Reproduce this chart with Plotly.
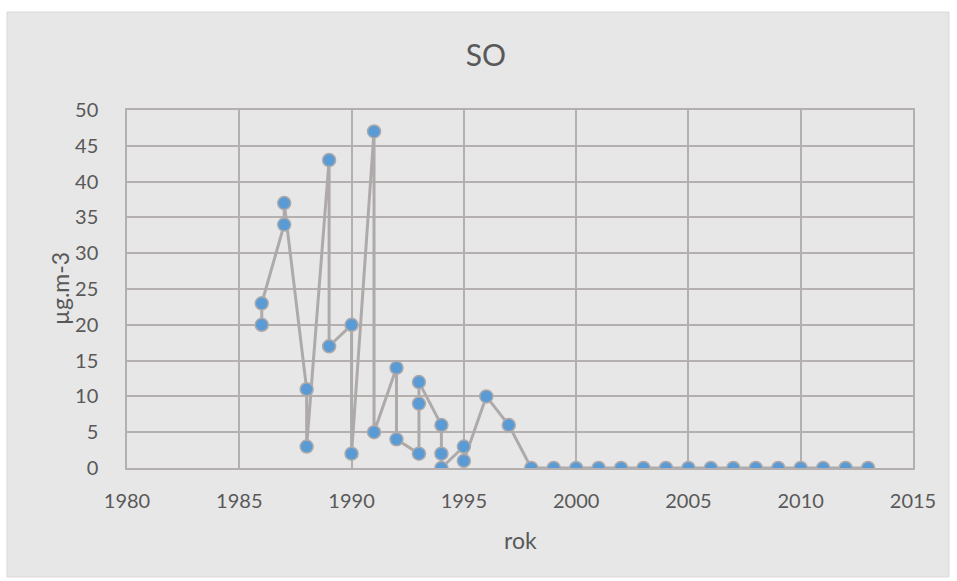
import plotly.graph_objects as go

years = [1986, 1986, 1987, 1987, 1988, 1988, 1989, 1989, 1990, 1990,
         1991, 1991, 1992, 1992, 1993, 1993, 1993, 1994, 1994, 1994,
         1995, 1995, 1996, 1997, 1998, 1999, 2000, 2001, 2002, 2003,
         2004, 2005, 2006, 2007, 2008, 2009, 2010, 2011, 2012, 2013]
values = [20, 23, 34, 37, 11, 3, 43, 17, 20, 2,
          47, 5, 14, 4, 2, 9, 12, 6, 2, 0,
          3, 1, 10, 6, 0, 0, 0, 0, 0, 0,
          0, 0, 0, 0, 0, 0, 0, 0, 0, 0]

title_text = "SO"
x_title = "rok"
y_title = "µg.m-3"

FONT = "Lato, 'Open Sans', sans-serif"
TXT = "#595959"
GRID = "#b3b0af"
BG = "#e7e7e7"

fig = go.Figure()
fig.add_trace(go.Scatter(
    x=years, y=values, mode="lines+markers",
    line=dict(color="#aeaaaa", width=3),
    marker=dict(size=13, color="#5b9bd5", line=dict(color="#aeaaaa", width=1.5)),
    showlegend=False,
))

L, R, T, B = 127, 44, 110, 113
W, H = 957, 581
pw, ph = W - L - R, H - T - B

def px_x(p):
    return (p - L) / pw

def px_y(p):
    return (H - B - p) / ph

fig.add_shape(type="rect", xref="paper", yref="paper",
              x0=px_x(7), x1=px_x(949), y0=px_y(577), y1=px_y(12),
              fillcolor=BG, line=dict(color="#d9d9d9", width=1), layer="below")

fig.update_layout(
    width=W, height=H,
    margin=dict(l=L, r=R, t=T, b=B),
    paper_bgcolor="white",
    plot_bgcolor="rgba(0,0,0,0)",
    font=dict(family=FONT, color=TXT, size=20),
    title=dict(text=title_text, x=486 / W, xanchor="center",
               y=1 - 55 / H, yanchor="middle",
               font=dict(family=FONT, size=30, color=TXT)),
    xaxis=dict(range=[1980, 2015], tickvals=list(range(1980, 2016, 5)),
               showgrid=True, gridcolor=GRID, gridwidth=1.5,
               zeroline=False, showline=True, linecolor=GRID, linewidth=1.5,
               mirror=True,
               ticks="", ticklabelstandoff=14, tickfont=dict(size=20, color=TXT)),
    yaxis=dict(range=[0, 50], tickvals=list(range(0, 51, 5)),
               showgrid=True, gridcolor=GRID, gridwidth=1.5,
               zeroline=False, showline=True, linecolor=GRID, linewidth=1.5,
               mirror=True,
               ticks="", ticklabelstandoff=23, tickfont=dict(size=20, color=TXT)),
)

fig.add_annotation(text=x_title, xref="paper", yref="paper",
                   x=0.5, y=px_y(540), showarrow=False,
                   xanchor="center", yanchor="middle",
                   font=dict(size=23, color=TXT, family=FONT))
fig.add_annotation(text=y_title, xref="paper", yref="paper",
                   x=px_x(60), y=0.5, showarrow=False, textangle=-90,
                   xanchor="center", yanchor="middle",
                   font=dict(size=23, color=TXT, family=FONT))

fig.write_html("out.html")
